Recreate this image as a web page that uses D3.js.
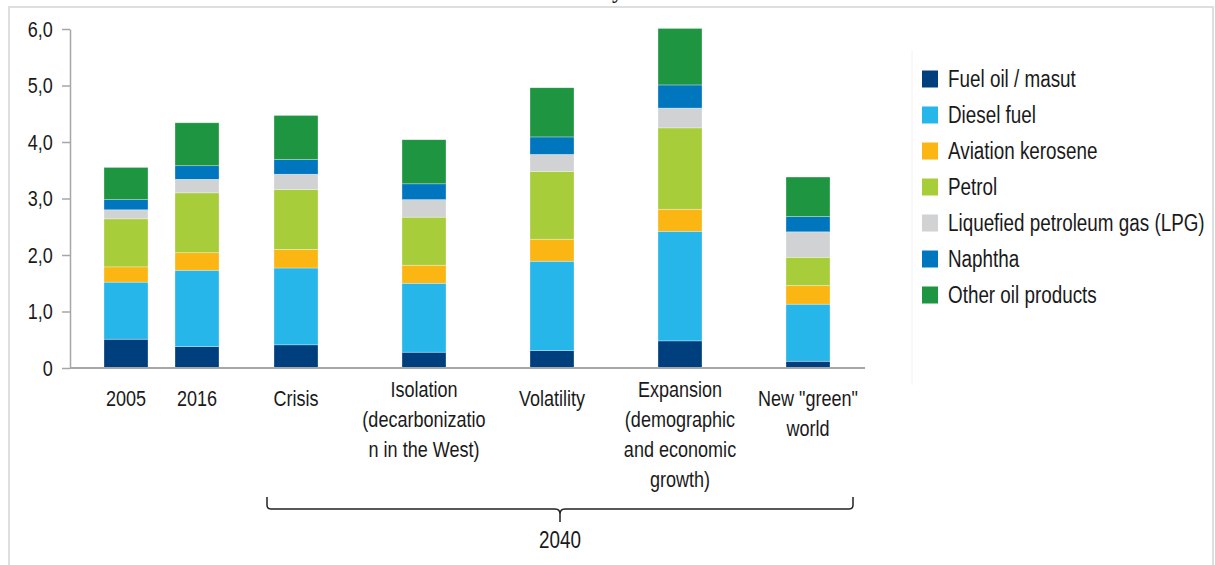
<!DOCTYPE html>
<html>
<head>
<meta charset="utf-8">
<script src="https://cdn.jsdelivr.net/npm/d3@7"></script>
<style>
  body { margin: 0; background: #fff; }
  svg text { font-family: "Liberation Sans", Arial, sans-serif; fill: #1a1a1a; }
</style>
</head>
<body>
<svg id="viz"></svg>
<script>
'use strict'

// categories on the x axis
const historyYears = ['2005', '2016']
const scenarios = ['Crisis', 'Isolation', 'Volatility', 'Expansion', 'New green']
const scenarioYear = '2040'
const categories = historyYears.concat(scenarios)
const categoryLabels = [
  ['2005'],
  ['2016'],
  ['Crisis'],
  ['Isolation', '(decarbonizatio', 'n in the West)'],
  ['Volatility'],
  ['Expansion', '(demographic', 'and economic', 'growth)'],
  ['New "green"', 'world']
]

// products (stack order, bottom to top)
const products = ['Fuel oil / masut', 'Diesel fuel', 'Aviation kerosene', 'Petrol',
  'Liquefied petroleum gas (LPG)', 'Naphtha', 'Other oil products']

// values, one per category
const fuelOil  = [0.51, 0.38, 0.41, 0.28, 0.31, 0.48, 0.12]
const diesel   = [1.01, 1.35, 1.36, 1.22, 1.58, 1.94, 1.01]
const aviation = [0.27, 0.31, 0.33, 0.32, 0.39, 0.39, 0.33]
const petrol   = [0.85, 1.06, 1.06, 0.85, 1.20, 1.44, 0.50]
const lpg      = [0.16, 0.24, 0.27, 0.31, 0.30, 0.35, 0.45]
const naphtha  = [0.18, 0.24, 0.26, 0.28, 0.31, 0.41, 0.27]
const other    = [0.57, 0.76, 0.78, 0.78, 0.87, 1.00, 0.70]

const yTicks = [0, 1, 2, 3, 4, 5, 6]

const productColors = ['#003f7d', '#27b6e9', '#fcb614', '#a8cd3a', '#d1d2d4', '#0076bf', '#1e9540']

;(function (d3) {
  const svgSize = { width: 1215, height: 565 }
  const margin = { top: 29, right: 350, bottom: 197, left: 70 }
  const graphSize = {
    width: svgSize.width - margin.left - margin.right,
    height: svgSize.height - margin.top - margin.bottom
  }
  // the original uses a condensed face; squeeze a regular one instead
  const narrow = 0.82

  const svg = d3.select('#viz')
    .attr('width', svgSize.width)
    .attr('height', svgSize.height)

  // light frame of the original figure
  svg.append('rect')
    .attr('x', 9).attr('y', 7)
    .attr('width', 1204).attr('height', 580)
    .attr('fill', 'none')
    .attr('stroke', '#dedede')
    .attr('stroke-width', 2)

  svg.append('line')
    .attr('x1', 912).attr('x2', 912)
    .attr('y1', 50).attr('y2', 385)
    .attr('stroke', '#f2f2f2')

  // cut-off title above the frame
  svg.append('text')
    .attr('x', 612).attr('y', -2)
    .style('font-family', '"Liberation Serif", serif')
    .style('font-weight', 'bold')
    .style('font-size', '22px')
    .text('y')

  const g = svg.append('g')
    .attr('transform', 'translate(' + margin.left + ',' + margin.top + ')')

  const seriesValues = [fuelOil, diesel, aviation, petrol, lpg, naphtha, other]
  const rows = categories.map((c, i) => {
    const row = { category: c }
    products.forEach((p, j) => { row[p] = seriesValues[j][i] })
    return row
  })

  const historyScale = d3.scalePoint().domain(historyYears).range([56, 127])
  const scenarioScale = d3.scalePoint().domain(scenarios).range([226, 738])
  const xCenter = c => historyYears.includes(c) ? historyScale(c) : scenarioScale(c)
  const barWidth = 44

  const yScale = d3.scaleLinear().domain([0, 6]).range([graphSize.height, 0])
  const colorScale = d3.scaleOrdinal().domain(products).range(productColors)

  const stacked = d3.stack().keys(products)(rows)

  g.selectAll('.layer')
    .data(stacked)
    .enter()
    .append('g')
      .attr('class', 'layer')
      .attr('fill', d => colorScale(d.key))
    .selectAll('rect')
    .data(d => d)
    .enter()
    .append('rect')
      .attr('x', d => xCenter(d.data.category) - barWidth / 2)
      .attr('width', barWidth)
      .attr('y', d => yScale(d[1]))
      .attr('height', d => yScale(d[0]) - yScale(d[1]))
      .attr('stroke', 'rgba(255,255,255,0.5)')
      .attr('stroke-width', 0.6)

  drawYAxis(g, yScale)
  drawXAxis(g, graphSize)
  drawCategoryLabels(g, xCenter)
  drawBracket(g, scenarioScale)
  drawLegend(svg, colorScale)

  function narrowGroup (parent, x, y) {
    return parent.append('g')
      .attr('transform', 'translate(' + x + ',' + y + ') scale(' + narrow + ',1)')
  }

  function drawYAxis (g, yScale) {
    const locale = d3.formatLocale({ decimal: ',', thousands: ' ', grouping: [3], currency: ['', ''] })
    const fmt = locale.format('.1f')
    const axis = g.append('g')
      .attr('class', 'y axis')
      .call(d3.axisLeft(yScale)
        .tickValues(yTicks)
        .tickSize(8)
        .tickSizeOuter(0)
        .tickPadding(13)
        .tickFormat(d => d === 0 ? '0' : fmt(d)))
    axis.select('.domain').attr('stroke', '#a6a6a6').attr('stroke-width', 1.5)
    axis.selectAll('.tick line').attr('stroke', '#a6a6a6').attr('stroke-width', 1.5)
    axis.selectAll('.tick text')
      .attr('transform', 'scale(' + narrow + ',1)')
      .style('font-size', '22px')
      .style('font-family', '"Liberation Sans", Arial, sans-serif')
      .attr('fill', '#1a1a1a')
  }

  function drawXAxis (g, size) {
    g.append('line')
      .attr('class', 'x axis')
      .attr('x1', 0).attr('x2', size.width)
      .attr('y1', size.height).attr('y2', size.height)
      .attr('stroke', '#a6a6a6')
      .attr('stroke-width', 2)
  }

  function drawCategoryLabels (g, xCenter) {
    const lineHeight = 30
    categories.forEach((c, i) => {
      const lines = categoryLabels[i]
      const firstY = lines.length >= 3 ? 360 : 369
      const t = narrowGroup(g, xCenter(c), 0)
        .append('text')
        .attr('text-anchor', 'middle')
        .style('font-size', '22px')
      lines.forEach((l, k) => {
        t.append('tspan')
          .attr('x', 0)
          .attr('y', firstY + k * lineHeight + 8)
          .text(l)
      })
    })
  }

  function drawBracket (g, scale) {
    const left = scale(scenarios[0]) - 29
    const right = scale(scenarios[scenarios.length - 1]) + 45
    const mid = (left + right) / 2
    const top = 468, base = 480, tip = 493
    const path = d3.path()
    path.moveTo(left, top)
    path.lineTo(left, base - 4)
    path.quadraticCurveTo(left, base, left + 4, base)
    path.lineTo(mid - 5, base)
    path.quadraticCurveTo(mid, base, mid, base + 5)
    path.lineTo(mid, tip)
    path.moveTo(mid, base + 5)
    path.quadraticCurveTo(mid, base, mid + 5, base)
    path.lineTo(right - 4, base)
    path.quadraticCurveTo(right, base, right, base - 4)
    path.lineTo(right, top)
    g.append('path')
      .attr('d', path.toString())
      .attr('fill', 'none')
      .attr('stroke', '#222')
      .attr('stroke-width', 1.5)

    narrowGroup(g, mid, 519)
      .append('text')
      .attr('text-anchor', 'middle')
      .style('font-size', '23px')
      .text(scenarioYear)
  }

  function drawLegend (svg, colorScale) {
    const rowScale = d3.scalePoint().domain(products).range([79, 295])
    const legend = svg.append('g').attr('class', 'legend')
    const item = legend.selectAll('g')
      .data(products)
      .enter()
      .append('g')
      .attr('transform', d => 'translate(922,' + rowScale(d) + ')')
    item.append('rect')
      .attr('x', 0).attr('y', -8.5)
      .attr('width', 16).attr('height', 17)
      .attr('fill', d => colorScale(d))
    item.each(function (d) {
      narrowGroup(d3.select(this), 26, 8)
        .append('text')
        .style('font-size', '23px')
        .text(d)
    })
  }
})(d3)
</script>
</body>
</html>
